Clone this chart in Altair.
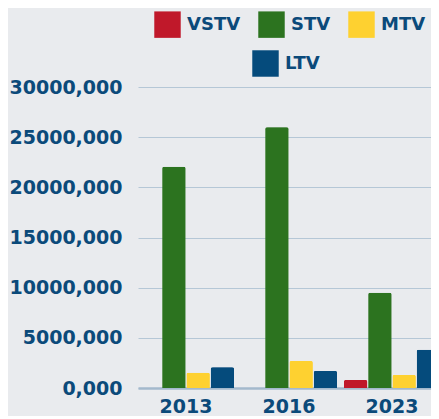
import altair as alt
import pandas as pd

years = ["2013", "2016", "2023"]
categories = ["VSTV", "STV", "MTV", "LTV"]
vstv = [0, 0, 800000]
stv = [22050000, 26000000, 9500000]
mtv = [1530000, 2680000, 1300000]
ltv = [2060000, 1700000, 3820000]
colors = ["#c0182a", "#2c731f", "#fed130", "#054b7c"]
text_color = "#0b4a7a"

rows = []
for cat, vals in zip(categories, [vstv, stv, mtv, ltv]):
    for y, v in zip(years, vals):
        rows.append({"year": y, "cat": cat, "value": v})
df = pd.DataFrame(rows)

FONT = "DejaVu Sans"

def bars(legend_values, legend_x, legend_y):
    return alt.Chart(df).mark_bar(cornerRadiusTopLeft=2, cornerRadiusTopRight=2).encode(
        x=alt.X("year:N", sort=years, title=None,
                scale=alt.Scale(paddingInner=0.068, paddingOuter=0),
                axis=alt.Axis(labelAngle=0, labelFont=FONT, labelFontSize=19,
                              labelFontWeight="bold", labelColor=text_color,
                              labelPadding=9, ticks=False, domainColor="#a3b9cc",
                              domainWidth=2.5)),
        xOffset=alt.XOffset("cat:N", sort=categories,
                            scale=alt.Scale(paddingInner=0.04, paddingOuter=0)),
        y=alt.Y("value:Q", title=None,
                scale=alt.Scale(domain=[0, 30000000], nice=False),
                axis=alt.Axis(values=[0, 5000000, 10000000, 15000000, 20000000, 25000000, 30000000],
                              labelExpr="format(datum.value/1000, 'd') + ',000'",
                              labelFont=FONT, labelFontSize=19, labelFontWeight="bold",
                              labelColor=text_color, labelPadding=16, ticks=False,
                              domain=False, gridColor="#b5c7d6", gridWidth=1)),
        color=alt.Color("cat:N", sort=categories,
                        scale=alt.Scale(domain=categories, range=colors),
                        legend=alt.Legend(values=legend_values, orient="none",
                                          legendX=legend_x, legendY=legend_y,
                                          direction="horizontal", title=None,
                                          symbolType="square", symbolSize=700,
                                          symbolStrokeWidth=0,
                                          labelFont=FONT, labelFontSize=18,
                                          labelFontWeight="bold", labelColor=text_color,
                                          columnPadding=17, labelOffset=6)),
    )

layer1 = bars(["VSTV", "STV", "MTV"], 16, -76)
layer2 = bars(["LTV"], 114, -37)

chart = alt.layer(layer1, layer2).resolve_scale(color="independent").properties(
    width=302, height=301,
    background="#e9ebee",
    autosize=alt.AutoSizeParams(type="none"),
    padding={"left": 130, "top": 79, "right": -9, "bottom": 28},
).configure_view(stroke=None)

chart.save("out.html", embed_options={"renderer": "svg", "actions": False})
